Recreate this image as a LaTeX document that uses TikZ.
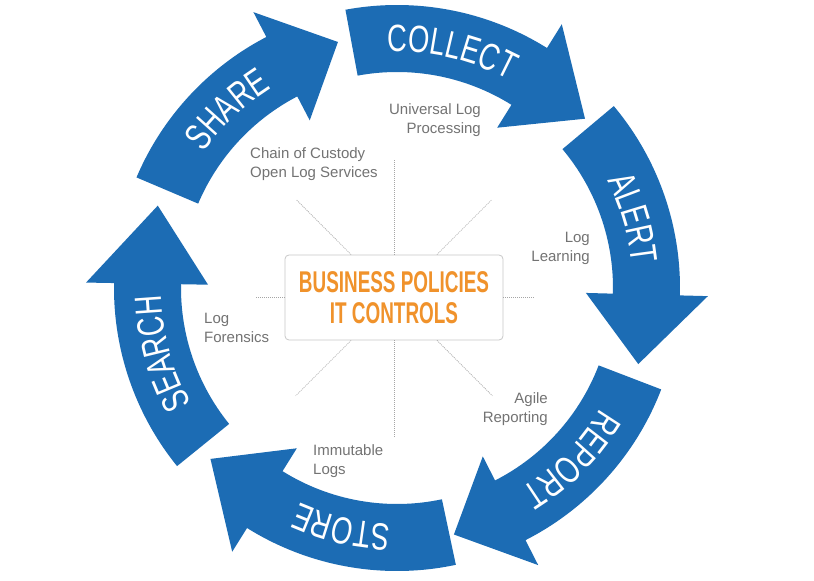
\documentclass[tikz,border=0pt]{standalone}
\usepackage{fontspec}
\setmainfont{Liberation Sans}
\newfontfamily\arrowfont{Liberation Sans}[FakeStretch=0.72]
\newfontfamily\centerfont{Liberation Sans}[FakeStretch=0.63]
\usetikzlibrary{decorations.text,calc}
\definecolor{ringblue}{RGB}{28,108,180}
\definecolor{policyorange}{RGB}{240,146,43}
\definecolor{labelgray}{RGB}{115,115,115}
\definecolor{boxgray}{RGB}{200,200,200}
\definecolor{dotgray}{RGB}{165,165,165}
% tail angle, head base angle, tip angle, label, text centre angle
\newcommand\ringarrow[5]{%
  \fill[ringblue] (#1:216pt) -- (#1:283pt)
    arc[start angle=#1, end angle=#2, radius=283pt]
    -- (#2:311pt) -- (#3:253pt) -- (#2:189pt) -- (#2:216pt)
    arc[start angle=#2, end angle=#1, radius=216pt] -- cycle;
  \path[decorate, decoration={text along path,
      text={|\arrowfont\fontsize{38}{38}\selectfont|#4},
      text align=center, text color=white}]
    ({#5+30}:236pt) arc[start angle={#5+30}, end angle={#5-30}, radius=236pt];
}
\tikzset{
  dotline/.style={draw=dotgray, line width=0.7pt, dash pattern=on 1pt off 1pt},
  sidelabel/.style={text=labelgray, inner sep=0pt,
    font=\fontsize{15}{19}\selectfont},
}
\begin{document}
\begin{tikzpicture}[x=1pt,y=1pt]
\fill[white] (0,0) rectangle (814,581);
\useasboundingbox (0,0) rectangle (814,581);

\begin{scope}[shift={(397,293)}]
  \ringarrow{100.5}{58}{42}{COLLECT}{77}
  \ringarrow{40}{-1.5}{-17.5}{ALERT}{16.5}
  \ringarrow{-21}{-63}{-77}{REPORT}{-44.5}
  \ringarrow{-78}{-122}{-137.5}{STORE}{-103}
  \ringarrow{-141}{-181}{-199}{SEARCH}{-164.5}
  \ringarrow{157}{117.5}{103.5}{SHARE}{133.5}
\end{scope}

\node[draw=boxgray, line width=0.8pt, rounded corners=4pt, fill=white,
      minimum width=218pt, minimum height=85pt, inner sep=0pt,
      align=center, text=policyorange,
      font=\centerfont\bfseries\fontsize{30}{31}\selectfont]
  (box) at (394,283.5) {BUSINESS POLICIES\\IT CONTROLS};

\foreach \a/\r in {0/141, 45/138, 90/137, 135/138, 180/139, 225/139, 270/140, 315/139}
  \draw[dotline] (box.\a) -- ($(box.center)+(\a:\r pt)$);

\node[sidelabel, align=right, anchor=east] (ulp) at (481,461) {Universal Log\\Processing};
\node[sidelabel, align=left, anchor=west] (coc) at (250,417) {Chain of Custody\\Open Log Services};
\node[sidelabel, align=right, anchor=east] (ll) at (590,333) {Log\\Learning};
\node[sidelabel, align=left, anchor=west] (lf) at (204,253) {Log\\Forensics};
\node[sidelabel, align=right, anchor=east] (ar) at (548,172) {Agile\\Reporting};
\node[sidelabel, align=left, anchor=west] (il) at (313,120) {Immutable\\Logs};
\end{tikzpicture}
\end{document}
